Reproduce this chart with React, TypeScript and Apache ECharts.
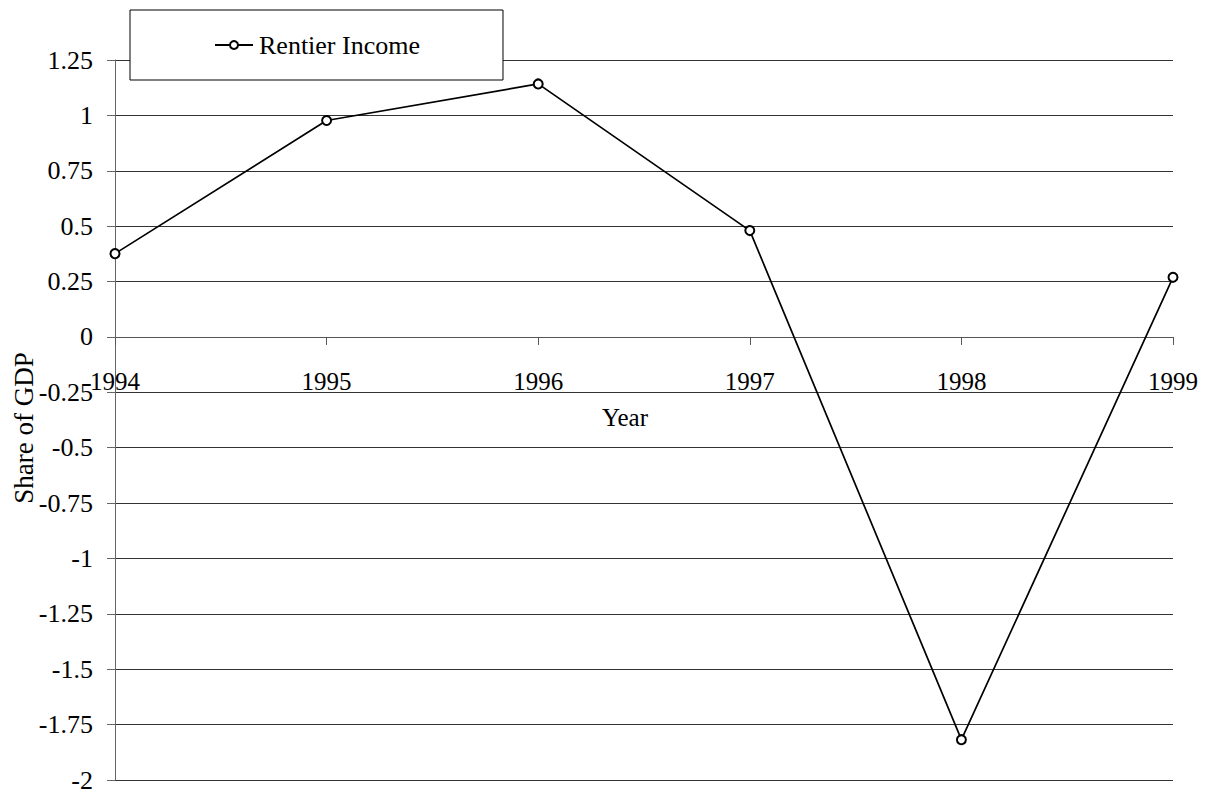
import React, { useEffect, useRef } from "react";
import * as echarts from "echarts";

const years = ["1994", "1995", "1996", "1997", "1998", "1999"];
const rentierIncome = [0.376, 0.977, 1.142, 0.48, -1.818, 0.269];
const seriesName = "Rentier Income";
const xAxisTitle = "Year";
const yAxisTitle = "Share of GDP";
const yMin = -2;
const yMax = 1.25;

const FONT = "Liberation Serif";

const GRID_TOP = 60;
const GRID_BOTTOM = 15;
const CHART_H = 795;

export default function App() {
  const ref = useRef<HTMLDivElement>(null);

  useEffect(() => {
    document.body.style.margin = "0";
    if (!ref.current) return;
    const chart = echarts.init(ref.current, null, { renderer: "svg" });
    const gridH = CHART_H - GRID_TOP - GRID_BOTTOM;
    // distance of value 0 from the bottom of the grid
    const zeroFromBottom = ((0 - yMin) / (yMax - yMin)) * gridH;
    chart.setOption({
      animation: false,
      backgroundColor: "#ffffff",
      textStyle: { fontFamily: FONT, color: "#000" },
      grid: { left: 115, right: 34, top: GRID_TOP, bottom: GRID_BOTTOM, containLabel: false },
      legend: {
        left: 130,
        top: 10,
        padding: [22, 83, 22, 84],
        backgroundColor: "#ffffff",
        borderColor: "#000000",
        borderWidth: 1,
        borderRadius: 0,
        itemWidth: 38,
        itemHeight: 10,
        itemGap: 0,
        textStyle: { fontFamily: FONT, fontSize: 26, color: "#000", padding: [0, 0, 0, 1] },
        data: [seriesName],
      },
      xAxis: {
        type: "category",
        data: years,
        boundaryGap: false,
        position: "bottom",
        offset: -zeroFromBottom,
        axisLine: { onZero: false, lineStyle: { color: "#555", width: 1 } },
        axisTick: { show: true, alignWithLabel: true, length: 8, lineStyle: { color: "#555" } },
        axisLabel: { fontFamily: FONT, fontSize: 25, color: "#000", margin: 32, interval: 0 },
        splitLine: { show: false },
      },
      yAxis: {
        type: "value",
        min: yMin,
        max: yMax,
        interval: 0.25,
        axisLine: { show: true, lineStyle: { color: "#666", width: 1 } },
        axisTick: { show: true, length: 8, lineStyle: { color: "#666" } },
        axisLabel: { fontFamily: FONT, fontSize: 26, color: "#000", margin: 22 },
        splitLine: { show: true, lineStyle: { color: "#333", width: 1 } },
      },
      graphic: [
        {
          type: "text",
          x: 625,
          y: 417,
          style: {
            text: xAxisTitle,
            fontFamily: FONT,
            fontSize: 25,
            fill: "#000",
            align: "center",
            verticalAlign: "middle",
          },
        },
        {
          type: "text",
          x: 24,
          y: 428,
          rotation: Math.PI / 2,
          style: {
            text: yAxisTitle,
            fontFamily: FONT,
            fontSize: 27,
            fill: "#000",
            align: "center",
            verticalAlign: "middle",
          },
        },
      ],
      series: [
        {
          name: seriesName,
          type: "line",
          data: rentierIncome,
          symbol: "emptyCircle",
          symbolSize: 9,
          showAllSymbol: true,
          lineStyle: { color: "#000", width: 1.7 },
          itemStyle: { color: "#000", borderColor: "#000", borderWidth: 1.5 },
          z: 5,
        },
      ],
    });
    return () => chart.dispose();
  }, []);

  return <div ref={ref} style={{ width: 1207, height: 795 }} />;
}
